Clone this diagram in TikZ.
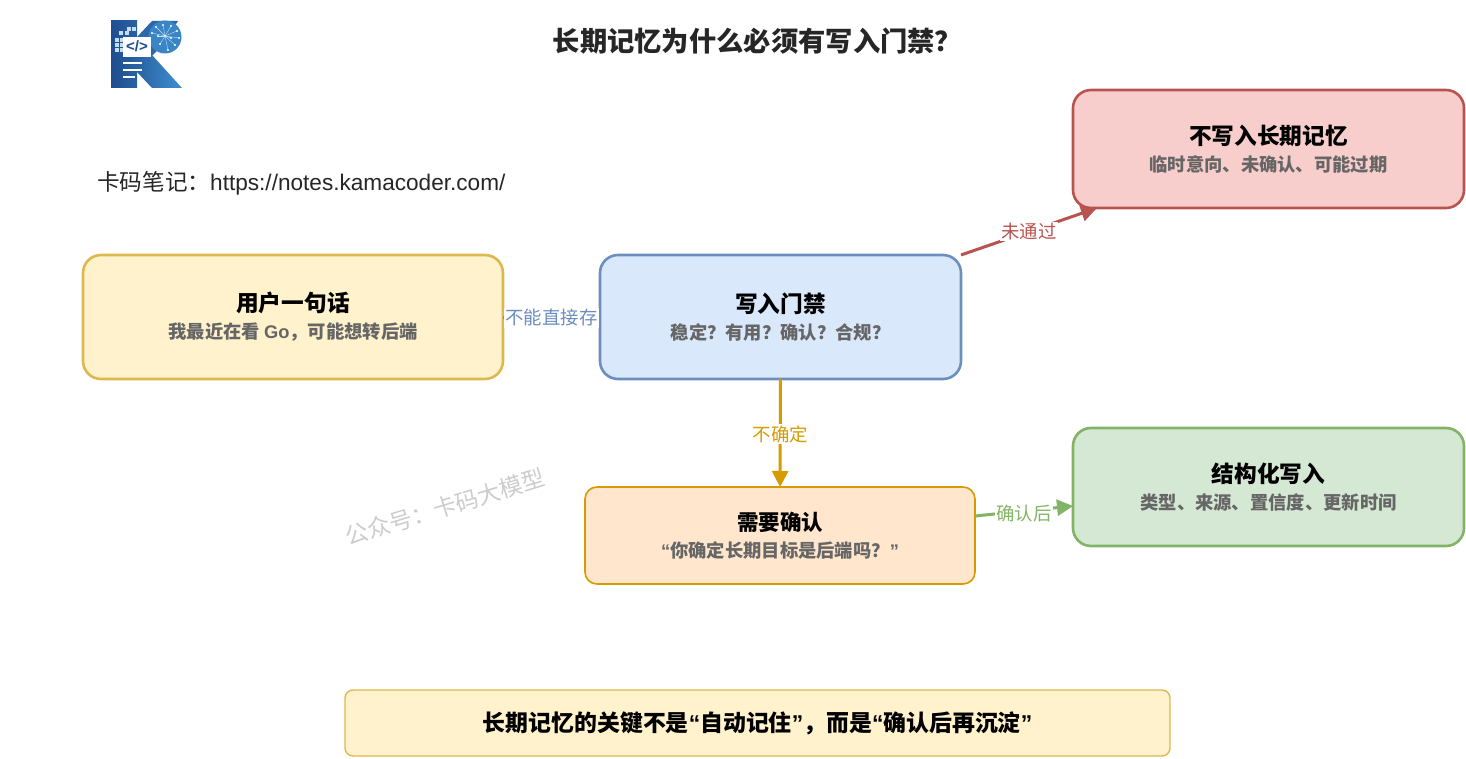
\documentclass[tikz,border=0pt]{standalone}
\usepackage{fontspec}
\setmainfont{Noto Sans CJK SC}
\newfontfamily\latinfont{Liberation Sans}
\usetikzlibrary{arrows.meta, calc}
\definecolor{noteyellow}{HTML}{FFF2CC}
\definecolor{noteyellowline}{HTML}{DDB84F}
\definecolor{gateblue}{HTML}{DAE8FC}
\definecolor{gateblueline}{HTML}{6C8EBF}
\definecolor{rejectred}{HTML}{F8CECC}
\definecolor{rejectredline}{HTML}{B85450}
\definecolor{askorange}{HTML}{FFE6CC}
\definecolor{askorangeline}{HTML}{D79B00}
\definecolor{savegreen}{HTML}{D5E8D4}
\definecolor{savegreenline}{HTML}{82B366}
\definecolor{subgray}{HTML}{666666}
\definecolor{logodark}{HTML}{1F4E8F}
\definecolor{logolight}{HTML}{3F8FD0}
\newcommand{\fs}[1]{\fontsize{#1}{#1}\selectfont}
\newcommand{\cardtext}[4]{{\fs{#1}\bfseries #3}\\[8pt]{\fs{#2}\bfseries\color{subgray}#4}}
\tikzset{
    card/.style={draw, rounded corners=18pt, line width=2.6pt, align=center, inner sep=0pt, outer sep=0pt, text=black},
    edgelabel/.style={fill=white, inner sep=1.5pt, font=\fs{18.4}},
    conn/.style={line width=3pt, -{Triangle[length=16pt, width=16pt]}},
}

\begin{document}
\begin{tikzpicture}[x=1pt, y=-1pt]
    \useasboundingbox (0,0) rectangle (1466,759);

    % --- Logo ---
    \shade[left color=logodark, right color=logodark!70!logolight] (111,21) rectangle (137,88); % Stem
    \shade[left color=logodark!70!logolight, right color=logolight] (137,57) -- (152,55) -- (182,88) -- (152,88) -- (137,72) -- cycle; % Lower leg
    \fill[logodark!60!logolight] (137,56) -- (137,37) -- (152,21) -- (178,21) -- (160,48) -- (152,56) -- cycle; % Upper arm
    \fill[logolight!85!logodark] (165,37) circle (16.5); % Brain
    \foreach \px/\py in {152/33,156/27,163/25,171/26,177/31,179/38,175/45,168/50,160/44,165/36,158/36,171/38} {
        \draw[white!70!logolight, line width=0.4pt] (\px,\py) -- (165,36);
        \fill[white] (\px,\py) circle (1.1);
    }
    \foreach \px/\py in {115/38,120/38,115/43,120/43,115/48,120/48,119/31,125/31,127/27,132/27} {
        \fill[white!70!logolight] (\px,\py) rectangle ++(4,4); % Pixel squares
    }
    \fill[white] (123,37) rectangle (151,57); % Code window
    \node[text=logodark, font=\latinfont\bfseries\fs{15}] (logocode) at (137,46.5) {</>};
    \foreach \py/\wd in {63/19,70/19,77/12} {
        \fill[white] (123,\py-1) rectangle ++(\wd,2);
    }

    % --- Texts ---
    \node[font=\bfseries\fs{27.3}, text=black!85] (title) at (757.5,41) {长期记忆为什么必须有写入门禁？};
    \node[anchor=west, font=\fs{22.6}, text=black!85, inner sep=0pt] (notelink) at (97,183) {卡码笔记：{\latinfont https://notes.kamacoder.com/}};
    \node[rotate=17, font=\fs{23}, text=black!20] (watermark) at (444.5,507) {公众号：卡码大模型};

    % --- Boxes ---
    \node[card, draw=noteyellowline, fill=noteyellow, minimum width=420pt, minimum height=124pt] (user) at (293,317)
        {\cardtext{22.7}{18.3}{用户一句话}{我最近在看 {\latinfont Go}，可能想转后端}};
    \node[card, draw=gateblueline, fill=gateblue, minimum width=361pt, minimum height=124pt] (gate) at (780.5,317)
        {\cardtext{22.7}{18.3}{写入门禁}{稳定？有用？确认？合规？}};
    \node[card, draw=rejectredline, fill=rejectred, minimum width=391pt, minimum height=118pt] (reject) at (1268.5,149)
        {\cardtext{22.7}{18.3}{不写入长期记忆}{临时意向、未确认、可能过期}};
    \node[card, draw=savegreenline, fill=savegreen, minimum width=391pt, minimum height=118pt] (save) at (1268.5,487)
        {\cardtext{22.7}{18.3}{结构化写入}{类型、来源、置信度、更新时间}};
    \node[card, draw=askorangeline, fill=askorange, rounded corners=12pt, line width=1.6pt, minimum width=390pt, minimum height=97pt] (ask) at (780,535.5)
        {\cardtext{21.5}{18.3}{需要确认}{{\latinfont “}你确定长期目标是后端吗？{\latinfont ”}}};
    \node[card, draw=noteyellowline, fill=noteyellow, rounded corners=8pt, line width=1.4pt, minimum width=825pt, minimum height=66pt, font=\bfseries\fs{22.9}] (keypoint) at (757.5,723)
        {长期记忆的关键不是{\latinfont “}自动记住{\latinfont ”}，而是{\latinfont “}确认后再沉淀{\latinfont ”}};

    % --- Connectors ---
    \draw[conn, gateblueline] (user) -- node[edgelabel, text=gateblueline, yshift=-1pt] (userlabel) {不能直接存} (gate);
    \draw[conn, rejectredline] (gate.north east) -- node[edgelabel, text=rejectredline, pos=0.5] (rejectlabel) {未通过} ([xshift=24pt]reject.south west);
    \draw[conn, askorangeline] (gate) -- node[edgelabel, text=askorangeline, pos=0.51] (asklabel) {不确定} (ask);
    \draw[conn, savegreenline] ([yshift=19.5pt]ask.east) -- node[edgelabel, text=savegreenline, pos=0.5, yshift=-2pt] (savelabel) {确认后} ([yshift=-19pt]save.west);
\end{tikzpicture}
\end{document}
